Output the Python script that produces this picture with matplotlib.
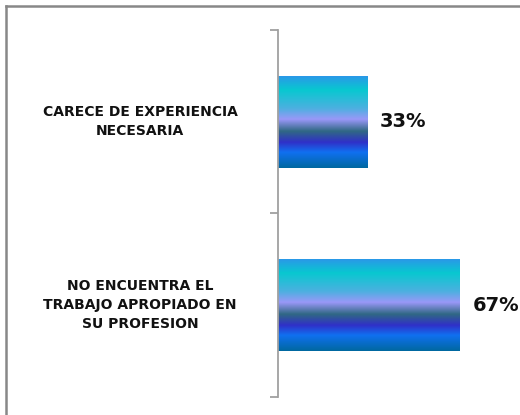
import matplotlib.pyplot as plt
import numpy as np
from matplotlib.colors import LinearSegmentedColormap
from matplotlib.lines import Line2D

# datos del grafico
categorias = ['CARECE DE EXPERIENCIA\nNECESARIA',
              'NO ENCUENTRA EL\nTRABAJO APROPIADO EN\nSU PROFESION']
porcentajes = [33, 67]
etiquetas = ['33%', '67%']

# degradado de las barras (de arriba hacia abajo)
paradas = [(0.0, '#2a98e8'), (0.15, '#08c8d0'), (0.35, '#4cb0e0'),
           (0.47, '#9a98f8'), (0.60, '#306884'), (0.72, '#3030c8'),
           (0.83, '#1070f0'), (1.0, '#0068a0')]
degradado = LinearSegmentedColormap.from_list('barra', paradas)

fig = plt.figure(figsize=(5.2, 4.15), dpi=100)
W, H = 520, 415
ax = fig.add_axes([278 / W, 1 - 397 / H, (W - 278) / W, (397 - 30) / H])

y = np.arange(len(categorias))
barras = ax.barh(y, porcentajes, height=0.5, color='none', edgecolor='none')
ax.set_ylim(len(categorias) - 0.5, -0.5)
ax.set_xlim(0, 89.2)

# rellenar cada barra con el degradado
grad = np.linspace(0, 1, 256).reshape(-1, 1)
for b in barras:
    x0, y0 = b.get_x(), b.get_y()
    ax.imshow(grad, cmap=degradado, aspect='auto',
              extent=(x0, x0 + b.get_width(), y0 + b.get_height(), y0),
              interpolation='bilinear', zorder=2)

# etiquetas de valor
for b, t in zip(barras, etiquetas):
    ax.annotate(t, (b.get_width(), b.get_y() + b.get_height() / 2),
                xytext=(9, 0), textcoords='offset points', ha='left',
                va='center', fontsize=14, fontweight='bold', color='#111111')

# eje vertical con marcas entre categorias
ax.set_yticks([])
ax.set_yticks([-0.5, 0.5, 1.5], minor=True)
ax.tick_params(axis='y', which='minor', length=6, width=1.3, color='#a0a0a0')
ax.set_xticks([])
for s in ['top', 'right', 'bottom']:
    ax.spines[s].set_visible(False)
ax.spines['left'].set_color('#a0a0a0')
ax.spines['left'].set_linewidth(1.3)
ax.patch.set_alpha(0)

# nombres de las categorias, centrados a la izquierda del eje
for i, c in enumerate(categorias):
    yfig = ax.transData.transform((0, i))[1]
    fig.text(140 / W, yfig / H, c, ha='center', va='center', fontsize=10,
             fontweight='bold', color='#111111', linespacing=1.45)

# marco gris del grafico
fig.add_artist(Line2D([6 / W, 6 / W], [0, 1 - 6 / H], transform=fig.transFigure,
                      color='#888888', linewidth=1.8))
fig.add_artist(Line2D([6 / W, 519 / W], [1 - 6 / H, 1 - 6 / H],
                      transform=fig.transFigure, color='#888888', linewidth=1.8))

fig.savefig('out.png', dpi=100)
